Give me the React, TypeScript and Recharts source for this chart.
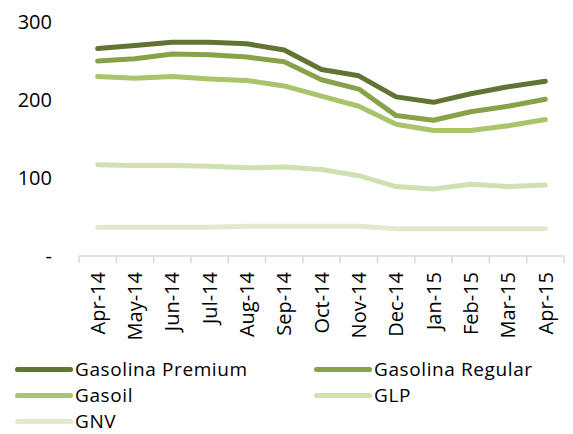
import React from "react";
import { LineChart, Line, XAxis, YAxis, Legend } from "recharts";

const months = [
  "Apr-14", "May-14", "Jun-14", "Jul-14", "Aug-14", "Sep-14", "Oct-14",
  "Nov-14", "Dec-14", "Jan-15", "Feb-15", "Mar-15", "Apr-15",
];

const gasolinaPremium = [266, 270, 274, 274, 272, 264, 239, 231, 204, 197, 208, 217, 224];
const gasolinaRegular = [250, 253, 259, 258, 255, 249, 226, 214, 180, 174, 185, 192, 201];
const gasoil = [230, 228, 230, 227, 225, 218, 205, 192, 169, 161, 161, 167, 175];
const glp = [117, 116, 116, 115, 113, 114, 111, 103, 89, 86, 92, 89, 91];
const gnv = [37, 37, 37, 37, 38, 38, 38, 38, 35, 35, 35, 35, 35];

const yTicks = [0, 100, 200, 300];

const series = [
  { key: "premium", name: "Gasolina Premium", values: gasolinaPremium, color: "#627434" },
  { key: "regular", name: "Gasolina Regular", values: gasolinaRegular, color: "#88a24a" },
  { key: "gasoil", name: "Gasoil", values: gasoil, color: "#a9c46b" },
  { key: "glp", name: "GLP", values: glp, color: "#d1e0b1" },
  { key: "gnv", name: "GNV", values: gnv, color: "#e1eacf" },
];

const data = months.map((m, i) => {
  const row: Record<string, string | number> = { month: m };
  series.forEach((s) => {
    row[s.key] = s.values[i];
  });
  return row;
});

const FONT = "'Open Sans', sans-serif";
const W = 573;
const H = 434;
const LEFT = 79;
const RIGHT = 9;
const BAND = (W - LEFT - RIGHT) / months.length;

function MonthTick(props: any) {
  const { x, y, payload, index } = props;
  const half = BAND / 2;
  return (
    <g transform={`translate(${x},${y})`}>
      <line x1={-half} y1={0} x2={-half} y2={7} stroke="#d9d9d9" strokeWidth={1.5} />
      {index === months.length - 1 && (
        <line x1={half} y1={0} x2={half} y2={7} stroke="#d9d9d9" strokeWidth={1.5} />
      )}
      <text
        transform="rotate(-90)"
        x={-16}
        y={0}
        dy="0.36em"
        textAnchor="end"
        fill="#000"
        fontSize={20}
        fontFamily={FONT}
      >
        {payload.value}
      </text>
    </g>
  );
}

function LegendBox() {
  return (
    <div
      style={{
        display: "grid",
        gridTemplateColumns: "299px 259px",
        paddingLeft: 15,
        fontFamily: FONT,
        fontSize: 19,
        letterSpacing: 0.6,
        lineHeight: "26px",
        color: "#000",
      }}
    >
      {series.map((s) => (
        <div key={s.key} style={{ display: "flex", alignItems: "center", height: 26 }}>
          <span
            style={{
              display: "inline-block",
              width: 58,
              height: 5,
              borderRadius: 3,
              background: s.color,
              marginRight: 2,
            }}
          />
          <span>{s.name}</span>
        </div>
      ))}
    </div>
  );
}

export default function App() {
  return (
    <div style={{ position: "absolute", left: 0, top: 0, width: W, height: H, background: "#fff" }}>
      <LineChart width={W} height={H} data={data} margin={{ top: 22, right: RIGHT, left: 0, bottom: 0 }}>
        <XAxis
          dataKey="month"
          type="category"
          interval={0}
          padding={{ left: BAND / 2, right: BAND / 2 }}
          axisLine={{ stroke: "#d9d9d9", strokeWidth: 1.5 }}
          tickLine={false}
          tickSize={0}
          tickMargin={0}
          height={100}
          tick={<MonthTick />}
        />
        <YAxis
          width={LEFT}
          domain={[0, 300]}
          ticks={yTicks}
          interval={0}
          axisLine={false}
          tickLine={false}
          tickMargin={21}
          tickFormatter={(v: number) => (v === 0 ? "-" : String(v))}
          tick={{ fill: "#000", fontSize: 20, fontFamily: FONT }}
        />
        <Legend
          verticalAlign="bottom"
          align="left"
          height={77}
          wrapperStyle={{ left: 0, top: 356, width: W, height: 78 }}
          content={() => <LegendBox />}
        />
        {series.map((s) => (
          <Line
            key={s.key}
            dataKey={s.key}
            name={s.name}
            stroke={s.color}
            strokeWidth={5}
            strokeLinecap="round"
            strokeLinejoin="round"
            dot={false}
            activeDot={false}
            isAnimationActive={false}
          />
        ))}
      </LineChart>
    </div>
  );
}
